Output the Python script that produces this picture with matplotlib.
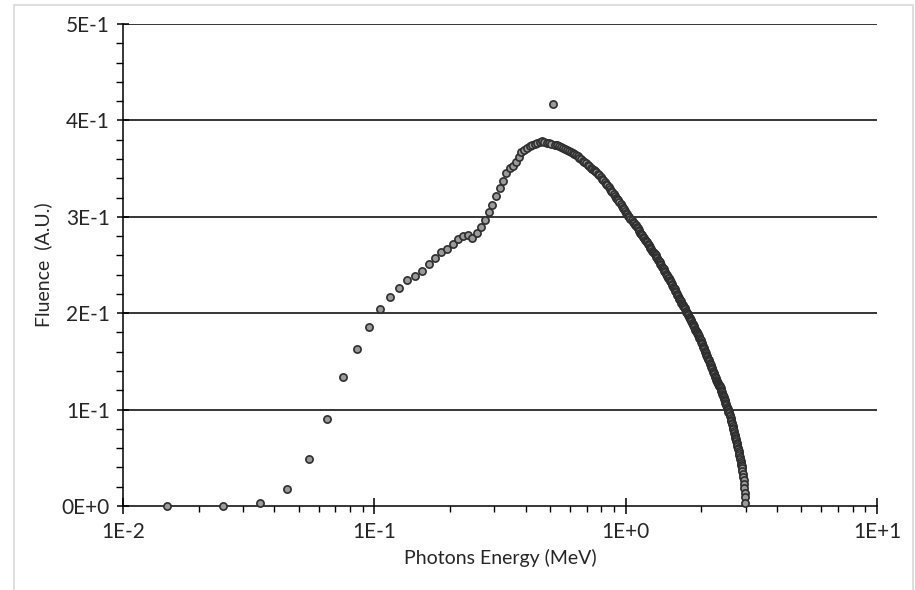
import matplotlib
matplotlib.use("Agg")
import matplotlib.pyplot as plt
from matplotlib.patches import Rectangle
from matplotlib.ticker import LogLocator, MultipleLocator, NullFormatter

# bin centres (MeV), one row per 0.1 MeV
energy = [
    0.015, 0.025, 0.035, 0.045, 0.055, 0.065, 0.075, 0.085, 0.095,
    0.105, 0.115, 0.125, 0.135, 0.145, 0.155, 0.165, 0.175, 0.185, 0.195,
    0.205, 0.215, 0.225, 0.235, 0.245, 0.255, 0.265, 0.275, 0.285, 0.295,
    0.305, 0.315, 0.325, 0.335, 0.345, 0.355, 0.365, 0.375, 0.385, 0.395,
    0.405, 0.415, 0.425, 0.435, 0.445, 0.455, 0.465, 0.475, 0.485, 0.495,
    0.505, 0.515, 0.525, 0.535, 0.545, 0.555, 0.565, 0.575, 0.585, 0.595,
    0.605, 0.615, 0.625, 0.635, 0.645, 0.655, 0.665, 0.675, 0.685, 0.695,
    0.705, 0.715, 0.725, 0.735, 0.745, 0.755, 0.765, 0.775, 0.785, 0.795,
    0.805, 0.815, 0.825, 0.835, 0.845, 0.855, 0.865, 0.875, 0.885, 0.895,
    0.905, 0.915, 0.925, 0.935, 0.945, 0.955, 0.965, 0.975, 0.985, 0.995,
    1.005, 1.015, 1.025, 1.035, 1.045, 1.055, 1.065, 1.075, 1.085, 1.095,
    1.105, 1.115, 1.125, 1.135, 1.145, 1.155, 1.165, 1.175, 1.185, 1.195,
    1.205, 1.215, 1.225, 1.235, 1.245, 1.255, 1.265, 1.275, 1.285, 1.295,
    1.305, 1.315, 1.325, 1.335, 1.345, 1.355, 1.365, 1.375, 1.385, 1.395,
    1.405, 1.415, 1.425, 1.435, 1.445, 1.455, 1.465, 1.475, 1.485, 1.495,
    1.505, 1.515, 1.525, 1.535, 1.545, 1.555, 1.565, 1.575, 1.585, 1.595,
    1.605, 1.615, 1.625, 1.635, 1.645, 1.655, 1.665, 1.675, 1.685, 1.695,
    1.705, 1.715, 1.725, 1.735, 1.745, 1.755, 1.765, 1.775, 1.785, 1.795,
    1.805, 1.815, 1.825, 1.835, 1.845, 1.855, 1.865, 1.875, 1.885, 1.895,
    1.905, 1.915, 1.925, 1.935, 1.945, 1.955, 1.965, 1.975, 1.985, 1.995,
    2.005, 2.015, 2.025, 2.035, 2.045, 2.055, 2.065, 2.075, 2.085, 2.095,
    2.105, 2.115, 2.125, 2.135, 2.145, 2.155, 2.165, 2.175, 2.185, 2.195,
    2.205, 2.215, 2.225, 2.235, 2.245, 2.255, 2.265, 2.275, 2.285, 2.295,
    2.305, 2.315, 2.325, 2.335, 2.345, 2.355, 2.365, 2.375, 2.385, 2.395,
    2.405, 2.415, 2.425, 2.435, 2.445, 2.455, 2.465, 2.475, 2.485, 2.495,
    2.505, 2.515, 2.525, 2.535, 2.545, 2.555, 2.565, 2.575, 2.585, 2.595,
    2.605, 2.615, 2.625, 2.635, 2.645, 2.655, 2.665, 2.675, 2.685, 2.695,
    2.705, 2.715, 2.725, 2.735, 2.745, 2.755, 2.765, 2.775, 2.785, 2.795,
    2.805, 2.815, 2.825, 2.835, 2.845, 2.855, 2.865, 2.875, 2.885, 2.895,
    2.905, 2.915, 2.925, 2.935, 2.945, 2.955, 2.965, 2.975, 2.985, 2.995,
]

# fluence (arbitrary units)
fluence = [
    0.000, 0.000, 0.003, 0.018, 0.049, 0.090, 0.134, 0.163, 0.186,
    0.204, 0.217, 0.226, 0.234, 0.239, 0.244, 0.251, 0.257, 0.263, 0.267,
    0.272, 0.277, 0.280, 0.281, 0.278, 0.283, 0.289, 0.297, 0.305, 0.312,
    0.322, 0.330, 0.337, 0.345, 0.351, 0.353, 0.357, 0.362, 0.367, 0.369,
    0.371, 0.373, 0.375, 0.376, 0.377, 0.378, 0.379, 0.378, 0.377, 0.377,
    0.376, 0.417, 0.375, 0.374, 0.373, 0.372, 0.371, 0.370, 0.369, 0.368,
    0.367, 0.366, 0.365, 0.364, 0.363, 0.361, 0.360, 0.358, 0.357, 0.356,
    0.354, 0.353, 0.351, 0.350, 0.349, 0.347, 0.346, 0.344, 0.343, 0.341,
    0.339, 0.338, 0.336, 0.334, 0.333, 0.331, 0.329, 0.327, 0.326, 0.324,
    0.322, 0.320, 0.318, 0.317, 0.315, 0.313, 0.311, 0.309, 0.308, 0.306,
    0.304, 0.303, 0.301, 0.300, 0.298, 0.297, 0.295, 0.294, 0.292, 0.291,
    0.289, 0.288, 0.286, 0.285, 0.283, 0.282, 0.281, 0.279, 0.278, 0.276,
    0.275, 0.274, 0.272, 0.271, 0.269, 0.268, 0.267, 0.265, 0.264, 0.262,
    0.261, 0.260, 0.258, 0.257, 0.255, 0.254, 0.253, 0.251, 0.250, 0.248,
    0.247, 0.246, 0.244, 0.243, 0.241, 0.240, 0.239, 0.237, 0.236, 0.234,
    0.233, 0.232, 0.230, 0.229, 0.227, 0.226, 0.225, 0.223, 0.222, 0.220,
    0.219, 0.218, 0.216, 0.215, 0.214, 0.213, 0.211, 0.210, 0.209, 0.207,
    0.206, 0.205, 0.204, 0.202, 0.201, 0.200, 0.199, 0.198, 0.196, 0.195,
    0.194, 0.193, 0.192, 0.190, 0.189, 0.188, 0.187, 0.186, 0.184, 0.183,
    0.182, 0.181, 0.179, 0.178, 0.177, 0.176, 0.174, 0.173, 0.172, 0.170,
    0.169, 0.168, 0.166, 0.165, 0.164, 0.163, 0.161, 0.160, 0.159, 0.157,
    0.156, 0.155, 0.153, 0.152, 0.151, 0.150, 0.148, 0.147, 0.146, 0.144,
    0.143, 0.142, 0.140, 0.139, 0.138, 0.137, 0.135, 0.134, 0.133, 0.131,
    0.130, 0.129, 0.128, 0.127, 0.126, 0.125, 0.124, 0.123, 0.122, 0.120,
    0.119, 0.118, 0.116, 0.115, 0.114, 0.113, 0.111, 0.110, 0.109, 0.107,
    0.106, 0.105, 0.103, 0.102, 0.101, 0.100, 0.098, 0.097, 0.096, 0.094,
    0.093, 0.091, 0.089, 0.088, 0.086, 0.085, 0.083, 0.081, 0.080, 0.078,
    0.076, 0.074, 0.073, 0.071, 0.069, 0.067, 0.065, 0.064, 0.062, 0.060,
    0.059, 0.057, 0.055, 0.053, 0.051, 0.049, 0.047, 0.045, 0.043, 0.041,
    0.039, 0.036, 0.033, 0.030, 0.027, 0.023, 0.019, 0.014, 0.009, 0.003,
]

x_ticks = [0.01, 0.1, 1.0, 10.0]
x_labels = ["1E-2", "1E-1", "1E+0", "1E+1"]
y_ticks = [0.0, 0.1, 0.2, 0.3, 0.4, 0.5]
y_labels = ["0E+0", "1E-1", "2E-1", "3E-1", "4E-1", "5E-1"]

plt.rcParams['font.family'] = ['Lato', 'DejaVu Sans']
txt = '#262626'

fig = plt.figure(figsize=(9.15, 5.9), dpi=100)
# light chart border like the spreadsheet frame
fig.patches.append(Rectangle((14/915, -0.05), 899/915, 1.05 - 5/590,
                             transform=fig.transFigure, fill=False,
                             edgecolor='#d9d9d9', lw=1.2))

ax = fig.add_axes([123/915, 84/590, 754/915, 482/590])
ax.set_xscale('log')
ax.set_xlim(0.01, 10)
ax.set_ylim(0, 0.5)

ax.scatter(energy, fluence, s=27, facecolor='#9a9a9a', edgecolor='#2e2e2e',
           linewidths=1.2, zorder=3, clip_on=False)

ax.set_xticks(x_ticks)
ax.set_xticklabels(x_labels)
ax.xaxis.set_minor_locator(LogLocator(base=10, subs=range(2, 10), numticks=20))
ax.xaxis.set_minor_formatter(NullFormatter())
ax.set_yticks(y_ticks)
ax.set_yticklabels(y_labels)
ax.yaxis.set_minor_locator(MultipleLocator(0.02))

for t in y_ticks[1:]:
    ax.axhline(t, color='black', lw=1.1, zorder=1)

for s in ['top', 'right']:
    ax.spines[s].set_visible(False)
for s in ['left', 'bottom']:
    ax.spines[s].set_linewidth(1.1)

ax.tick_params(axis='x', which='major', direction='inout', length=11, width=1.1,
               labelsize=15, labelcolor=txt, pad=6)
ax.tick_params(axis='x', which='minor', direction='out', length=4.5, width=1.0)
ax.tick_params(axis='y', which='major', direction='inout', length=9, width=1.1,
               labelsize=15, labelcolor=txt, pad=5)
ax.tick_params(axis='y', which='minor', direction='out', length=5, width=1.0)

ax.set_xlabel('Photons Energy (MeV)', fontsize=14, color=txt, labelpad=5)
ax.set_ylabel('Fluence  (A.U.)', fontsize=14, color=txt, labelpad=7)

fig.savefig('out.png', dpi=100)
